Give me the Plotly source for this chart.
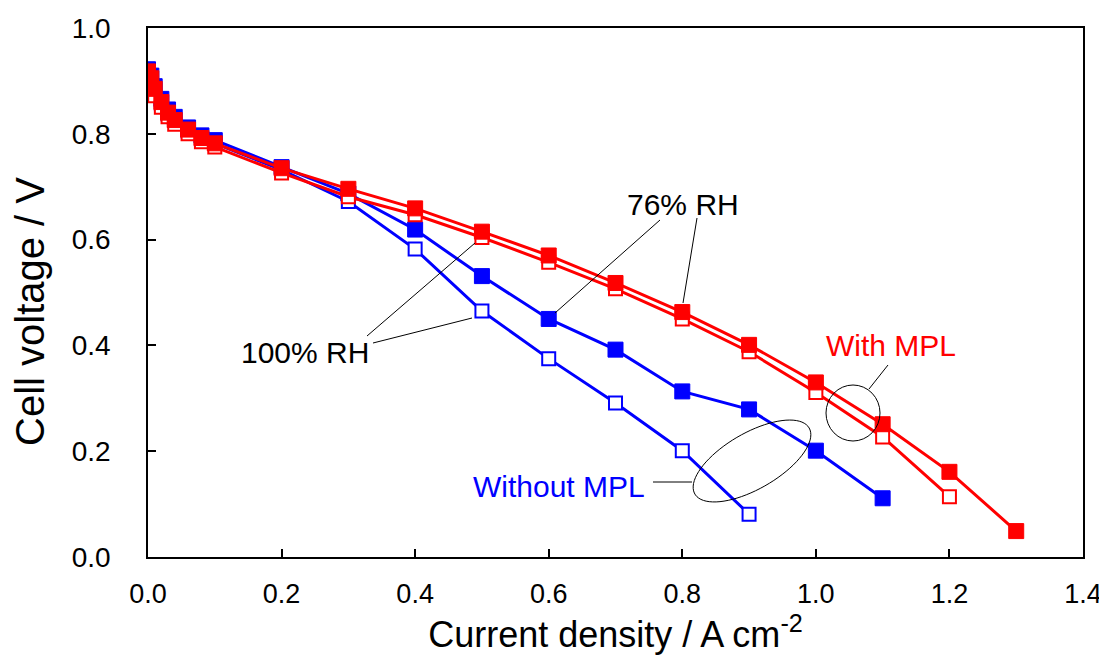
import numpy as np
import plotly.graph_objects as go

# ---------------- data ----------------
current = [0, 0.005, 0.01, 0.02, 0.03, 0.04, 0.06, 0.08, 0.1,
           0.2, 0.3, 0.4, 0.5, 0.6, 0.7, 0.8, 0.9, 1.0, 1.1, 1.2, 1.3]

blue_76 = [0.922, 0.91, 0.89, 0.866, 0.846, 0.832, 0.812, 0.797, 0.788,
           0.737, 0.687, 0.619, 0.531, 0.450, 0.392, 0.313, 0.279, 0.201, 0.111]
blue_100 = [0.916, 0.90, 0.881, 0.857, 0.838, 0.826, 0.806, 0.790, 0.782,
            0.732, 0.672, 0.582, 0.465, 0.375, 0.291, 0.201, 0.081]
red_76 = [0.918, 0.905, 0.885, 0.86, 0.84, 0.826, 0.808, 0.792, 0.782,
          0.735, 0.696, 0.659, 0.615, 0.570, 0.518, 0.463, 0.401, 0.330, 0.251, 0.161, 0.049]
red_100 = [0.910, 0.892, 0.872, 0.85, 0.832, 0.818, 0.800, 0.785, 0.775,
           0.726, 0.681, 0.647, 0.604, 0.557, 0.507, 0.450, 0.388, 0.311, 0.227, 0.114]

x_ticks = [0.0, 0.2, 0.4, 0.6, 0.8, 1.0, 1.2, 1.4]
y_ticks = [0.0, 0.2, 0.4, 0.6, 0.8, 1.0]

BLUE = "#0000ff"
RED = "#ff0000"
FONT = "Liberation Sans, Arial, sans-serif"

fig = go.Figure()

def add_series(y, color, filled, name):
    x = current[:len(y)]
    fig.add_trace(go.Scatter(
        x=x, y=y, mode="lines+markers", name=name,
        line=dict(color=color, width=3),
        marker=dict(symbol="square",
                    size=15 if filled else 13,
                    color=color if filled else "white",
                    line=dict(color=color, width=1 if filled else 2)),
        showlegend=False))

add_series(blue_100, BLUE, False, "Without MPL 100% RH")
add_series(blue_76, BLUE, True, "Without MPL 76% RH")
add_series(red_100, RED, False, "With MPL 100% RH")
add_series(red_76, RED, True, "With MPL 76% RH")

# --- pixel(reference page)->data helpers for decorations ---
X0, X1, Y0, Y1 = 148, 1083, 557, 28
def px2x(p):
    return (p - X0) / (X1 - X0) * 1.4
def py2y(p):
    return (Y0 - p) / (Y0 - Y1) * 1.0

line_style = dict(color="black", width=1)

def seg(xa, ya, xb, yb):
    fig.add_shape(type="line", x0=px2x(xa), y0=py2y(ya), x1=px2x(xb), y1=py2y(yb),
                  xref="x", yref="y", line=line_style)

# 100% RH leaders
seg(367, 336, 475, 243)
seg(373, 343, 472, 318)
# 76% RH leaders
seg(660, 220, 555, 313)
seg(697, 218, 683, 303)
# With MPL leader
seg(888, 365, 869, 389)
# Without MPL leader
seg(653, 482, 692, 482)

# With MPL circle
fig.add_shape(type="circle", x0=px2x(826), x1=px2x(880), y0=py2y(441), y1=py2y(385),
              xref="x", yref="y", line=line_style)

# Without MPL rotated ellipse
t = np.linspace(0, 2 * np.pi, 80)
a, b, th = 66, 28, np.deg2rad(30)
cx, cy = 752, 461
ex = cx + a * np.cos(t) * np.cos(th) - b * np.sin(t) * np.sin(th)
ey = cy - (a * np.cos(t) * np.sin(th) + b * np.sin(t) * np.cos(th))
path = "M " + " L ".join(f"{px2x(u):.5f},{py2y(v):.5f}" for u, v in zip(ex, ey)) + " Z"
fig.add_shape(type="path", path=path, xref="x", yref="y", line=line_style)

def label(text, px, py, color):
    fig.add_annotation(x=px2x(px), y=py2y(py), text=text, showarrow=False,
                       font=dict(family=FONT, size=30, color=color),
                       xanchor="center", yanchor="middle")

label("76% RH", 683, 204, "black")
label("100% RH", 305, 352, "black")
label("With MPL", 891, 345, RED)
label("Without MPL", 559, 486, BLUE)

# y-axis title placed as an annotation (it sits slightly below the axis centre)
fig.add_annotation(x=(30 - 8 - 140) / 935, y=(557 - 312) / 529, xref="paper", yref="paper",
                   text="Cell voltage / V", textangle=-90, showarrow=False,
                   font=dict(family=FONT, size=40, color="black"),
                   xanchor="center", yanchor="middle")

fig.update_layout(
    width=1107, height=655,
    margin=dict(l=140, r=32, t=20, b=106, autoexpand=False),
    paper_bgcolor="white", plot_bgcolor="white",
    font=dict(family=FONT, size=28, color="black"),
    xaxis=dict(range=[0, 1.4], tickvals=x_ticks, ticktext=[f"{v:.1f}" for v in x_ticks],
               ticks="inside", ticklen=8, tickwidth=1.5, tickcolor="black",
               showline=True, linecolor="black", linewidth=1.5, mirror=True,
               showgrid=False, zeroline=False, automargin=False,
               tickfont=dict(size=27),
               title=dict(text="Current density / A cm<sup>-2</sup>",
                          font=dict(size=36), standoff=4),
               ticklabelstandoff=12),
    yaxis=dict(range=[0, 1.0], tickvals=y_ticks, ticktext=[f"{v:.1f}" for v in y_ticks],
               ticks="inside", ticklen=8, tickwidth=1.5, tickcolor="black",
               showline=True, linecolor="black", linewidth=1.5, mirror=True,
               showgrid=False, zeroline=False, automargin=False,
               tickfont=dict(size=28),
               ticklabelstandoff=30),
)

fig.write_html("out.html")
